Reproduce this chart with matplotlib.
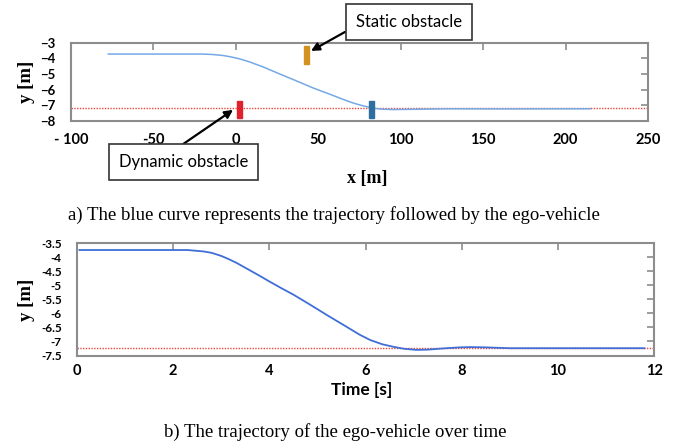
import matplotlib.pyplot as plt

# --- data --------------------------------------------------------------------
# (a) path in the x-y plane
path_x = [-77.4, -20, -14, -8, -3.5, 2, 8, 16.5, 25, 36.9, 47, 57.2, 67, 72,
          77.4, 83.3, 88, 95, 110, 130, 160, 215]
path_y = [-3.73, -3.73, -3.76, -3.82, -3.90, -4.03, -4.22, -4.55, -4.93, -5.45,
          -5.90, -6.30, -6.70, -6.88, -7.04, -7.18, -7.24, -7.27, -7.25, -7.22,
          -7.23, -7.22]
lane_y_a = -7.2

# obstacles: centre x, width, bottom y, top y
obs_names = ["dynamic", "static", "end"]
obs_x = [2.0, 43.0, 82.3]
obs_w = [3.2, 3.2, 3.2]
obs_bottom = [-7.82, -4.38, -7.82]
obs_top = [-6.70, -3.22, -6.70]
obs_colors = ["#e0202c", "#d3921f", "#2f6f9f"]

# (b) lateral position over time
time_s = [0.05, 2.3, 2.63, 2.8, 3.0, 3.15, 3.32, 3.55, 3.8, 4.0, 4.25, 4.5,
          4.85, 5.19, 5.6, 5.88, 6.1, 6.35, 6.58, 6.8, 7.06, 7.3, 7.6, 7.96,
          8.17, 8.5, 9.0, 11.8]
time_y = [-3.74, -3.74, -3.79, -3.84, -3.95, -4.06, -4.20, -4.42, -4.66, -4.86,
          -5.10, -5.33, -5.69, -6.05, -6.47, -6.76, -6.95, -7.10, -7.19, -7.26,
          -7.30, -7.29, -7.25, -7.21, -7.20, -7.21, -7.24, -7.24]
lane_y_b = -7.25

xticks_a = [-100, -50, 0, 50, 100, 150, 200, 250]
xtick_labels_a = ["- 100", "-50", "0", "50", "100", "150", "200", "250"]
yticks_a = [-3, -4, -5, -6, -7, -8]
xticks_b = [0, 2, 4, 6, 8, 10, 12]
yticks_b = [-3.5, -4, -4.5, -5, -5.5, -6, -6.5, -7, -7.5]

SANS = "Lato"
SERIF = "Liberation Serif"
SPINE = "#8c8c8c"

fig = plt.figure(figsize=(6.86, 4.41), dpi=100)


def style_axes(ax, xpad, ypad, ysize):
    for s in ax.spines.values():
        s.set_color(SPINE)
        s.set_linewidth(1.5)
    ax.tick_params(axis="x", which="both", bottom=False, top=True, direction="in",
                   length=5, width=1.2, color=SPINE, pad=xpad)
    ax.tick_params(axis="y", which="both", left=False, right=True, direction="in",
                   length=5, width=1.2, color=SPINE, pad=ypad)
    for lab in ax.get_xticklabels():
        lab.set_fontfamily(SANS); lab.set_fontweight("bold"); lab.set_fontsize(10.5)
    for lab in ax.get_yticklabels():
        lab.set_fontfamily(SANS); lab.set_fontweight("bold"); lab.set_fontsize(ysize)


# ---- (a) -------------------------------------------------------------------
ax1 = fig.add_axes([71 / 686, 1 - 121 / 441, 577 / 686, 78.4 / 441])
ax1.set_xlim(-100, 250)
ax1.set_ylim(-8, -3)
ax1.plot([-100, 250], [lane_y_a, lane_y_a], color="#e8453c", ls=(0, (1, 1)), lw=1.0)
ax1.plot(path_x, path_y, color="#74a9e6", lw=1.1)
ax1.bar(obs_x, [t - b for t, b in zip(obs_top, obs_bottom)], width=obs_w,
        bottom=obs_bottom, color=obs_colors, edgecolor=obs_colors, zorder=3)
ax1.set_xticks(xticks_a)
ax1.set_xticklabels(xtick_labels_a)
ax1.set_yticks(yticks_a)
style_axes(ax1, xpad=9, ypad=11, ysize=9.5)
ax1.set_ylabel("y [m]", fontfamily=SERIF, fontweight="bold", fontsize=13.5, labelpad=4)
ax1.set_xlabel("x [m]", fontfamily=SERIF, fontweight="bold", fontsize=13, labelpad=14)
ax1.xaxis.set_label_coords((367 - 71) / 577, -0.62)

box = dict(boxstyle="square,pad=0.6", fc="white", ec="#333333", lw=1.2)
arrow_kw = dict(arrowstyle="-|>", color="black", lw=1.6, mutation_scale=12,
                shrinkA=0, shrinkB=0)
ax1.annotate("Static obstacle", xy=(45.6, -3.53), xytext=(104.8, -1.69),
             textcoords="data", annotation_clip=False, ha="center", va="center",
             fontfamily=SANS, fontsize=12, bbox=box,
             arrowprops=dict(relpos=(0.0, 0.25), **arrow_kw))
ax1.annotate("Dynamic obstacle", xy=(-1.7, -7.29), xytext=(-31.7, -10.64),
             textcoords="data", annotation_clip=False, ha="center", va="center",
             fontfamily=SANS, fontsize=12, bbox=box,
             arrowprops=dict(relpos=(0.38, 1.0), **arrow_kw))

# ---- (b) -------------------------------------------------------------------
ax2 = fig.add_axes([77 / 686, 1 - 355.5 / 441, 577 / 686, 112.2 / 441])
ax2.set_xlim(0, 12)
ax2.set_ylim(-7.5, -3.5)
ax2.plot([0, 12], [lane_y_b, lane_y_b], color="#e8453c", ls=(0, (1, 1)), lw=1.0)
ax2.plot(time_s, time_y, color="#3f6fd6", lw=1.3)
ax2.set_xticks(xticks_b)
ax2.set_yticks(yticks_b)
ax2.set_yticklabels([f"{v:g}" for v in yticks_b])
style_axes(ax2, xpad=6, ypad=11, ysize=8.5)
ax2.set_ylabel("y [m]", fontfamily=SERIF, fontweight="bold", fontsize=13.5, labelpad=2)
ax2.yaxis.set_label_coords(-0.072, 0.5)
ax2.set_xlabel("Time [s]", fontfamily=SANS, fontweight="bold", fontsize=12.5, labelpad=2)
ax2.xaxis.set_label_coords((362 - 77) / 577, -0.24)

# ---- captions ----------------------------------------------------------------
fig.text(334 / 686, 1 - 215 / 441,
         "a) The blue curve represents the trajectory followed by the ego-vehicle",
         ha="center", va="center", fontfamily=SERIF, fontsize=13.5)
fig.text(335 / 686, 1 - 432 / 441, "b) The trajectory of the ego-vehicle over time",
         ha="center", va="center", fontfamily=SERIF, fontsize=13.5)

fig.savefig("out.png", dpi=100)
